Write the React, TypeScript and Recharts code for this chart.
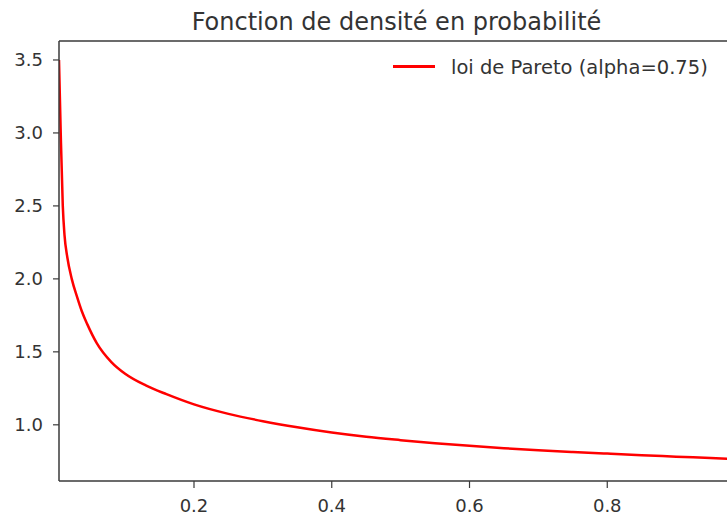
import * as React from "react";
import { Legend, Line, LineChart, XAxis, YAxis } from "recharts";

// values
const xValues = [
  0.004, 0.0065, 0.0095, 0.012, 0.016, 0.0225, 0.03, 0.037, 0.045, 0.0588,
  0.08, 0.1, 0.13, 0.16, 0.2, 0.25, 0.3, 0.35, 0.4, 0.45, 0.5, 0.55, 0.6,
  0.65, 0.7, 0.75, 0.8, 0.85, 0.9, 0.95, 1.0,
];
const densityValues = [
  3.5, 3.0, 2.5, 2.3, 2.15, 2.0, 1.88, 1.78, 1.69, 1.56,
  1.43, 1.35, 1.27, 1.21, 1.14, 1.075, 1.025, 0.983, 0.947, 0.918, 0.895, 0.874, 0.856,
  0.84, 0.826, 0.814, 0.803, 0.792, 0.782, 0.772, 0.763,
];
const xTicks = [0.2, 0.4, 0.6, 0.8];
const yTicks = [1.0, 1.5, 2.0, 2.5, 3.0, 3.5];

const title = "Fonction de densité en probabilité";
const seriesName = "loi de Pareto (alpha=0.75)";

const data = xValues.map((x, i) => ({ x, y: densityValues[i] }));

const FONT = "'DejaVu Sans', sans-serif";
const AXIS = "#3a3a3a";
const TEXT = "#333";

function LegendBox() {
  return (
    <div style={{ display: "flex", alignItems: "center", height: 24, fontFamily: FONT }}>
      <span
        style={{
          display: "inline-block",
          width: 42,
          height: 3,
          background: "#ff0000",
          position: "relative",
          top: -2,
          marginRight: 16,
        }}
      />
      <span style={{ fontSize: 19.5, lineHeight: "24px", color: TEXT, whiteSpace: "nowrap" }}>
        {seriesName}
      </span>
    </div>
  );
}

export default function App() {
  return (
    <div
      style={{
        position: "absolute",
        left: 0,
        top: 0,
        width: 727,
        height: 516,
        overflow: "hidden",
        background: "#fff",
        fontFamily: FONT,
      }}
    >
      <div
        style={{
          position: "absolute",
          left: 59,
          top: 10,
          width: 675,
          textAlign: "center",
          fontSize: 24,
          lineHeight: "24px",
          color: TEXT,
          whiteSpace: "nowrap",
        }}
      >
        {title}
      </div>
      <LineChart
        width={740}
        height={516}
        data={data}
        margin={{ top: 36, right: 6, bottom: 0, left: 0 }}
      >
        <XAxis
          dataKey="x"
          type="number"
          domain={[0.004, 0.984]}
          allowDataOverflow
          ticks={xTicks}
          tickFormatter={(v: number) => v.toFixed(1)}
          height={35}
          tickSize={7}
          tickMargin={11}
          axisLine={{ stroke: AXIS, strokeWidth: 1.5 }}
          tickLine={{ stroke: AXIS, strokeWidth: 1.2 }}
          tick={{ fill: TEXT, fontSize: 18, fontFamily: FONT }}
        />
        <XAxis
          xAxisId="top"
          orientation="top"
          dataKey="x"
          type="number"
          domain={[0.004, 0.984]}
          height={5}
          ticks={[]}
          tick={false}
          tickLine={false}
          axisLine={{ stroke: AXIS, strokeWidth: 1.5 }}
        />
        <YAxis
          type="number"
          domain={[0.615, 3.63]}
          allowDataOverflow
          ticks={yTicks}
          tickFormatter={(v: number) => v.toFixed(1)}
          width={59}
          tickSize={6}
          tickMargin={10}
          axisLine={{ stroke: AXIS, strokeWidth: 1.5 }}
          tickLine={{ stroke: AXIS, strokeWidth: 1.2 }}
          tick={{ fill: TEXT, fontSize: 18, fontFamily: FONT }}
        />
        <Legend
          layout="vertical"
          align="center"
          verticalAlign="middle"
          wrapperStyle={{ left: 393, top: 56, width: "auto" }}
          content={() => <LegendBox />}
        />
        <Line
          type="monotone"
          dataKey="y"
          name={seriesName}
          stroke="#ff0000"
          strokeWidth={2.5}
          dot={false}
          activeDot={false}
          isAnimationActive={false}
        />
      </LineChart>
    </div>
  );
}
